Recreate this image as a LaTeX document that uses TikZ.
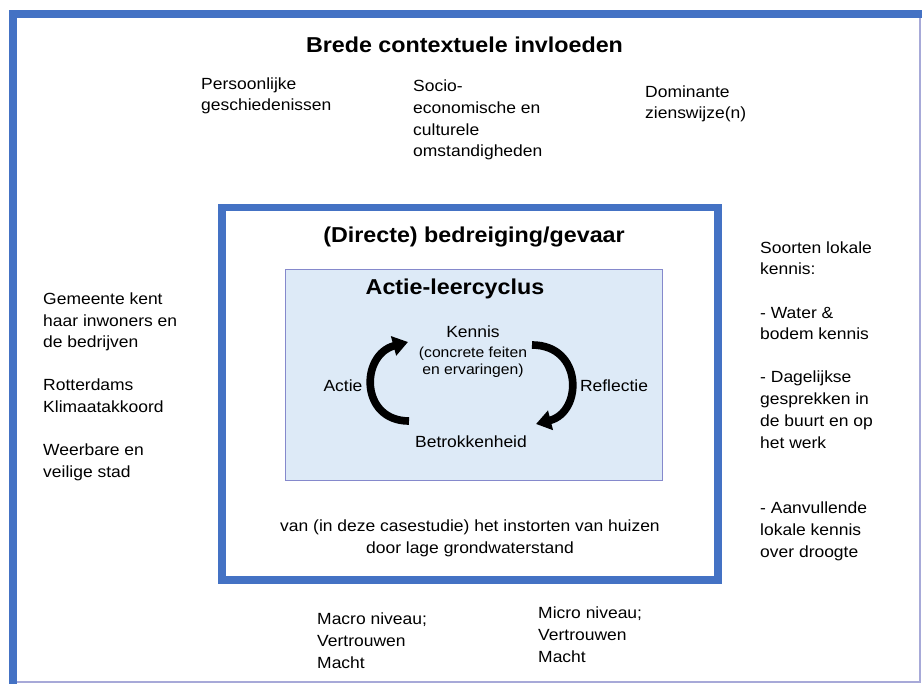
\documentclass[tikz,border=0pt]{standalone}
\usepackage{fontspec}
\setmainfont{Liberation Sans}[FakeStretch=1.08]
\usetikzlibrary{arrows.meta}
\definecolor{frameblue}{HTML}{4472C4}
\definecolor{cyclefill}{HTML}{DDEAF7}
\definecolor{cycleline}{HTML}{8589CC}
\definecolor{edgeline}{HTML}{A7A9D8}
\newcommand{\bodyfont}{\fontsize{13.8}{18.5}\selectfont}
\newcommand{\headfont}{\fontsize{18.4}{22}\selectfont\bfseries}
\newcommand{\smallfont}{\fontsize{12.4}{15.3}\selectfont}
\tikzset{
  ctxtext/.style={inner sep=0pt, anchor=base west, align=left, font=\bodyfont},
  heading/.style={inner sep=0pt, anchor=base, font=\headfont},
  cyclestep/.style={inner sep=0pt, anchor=base, align=center, font=\bodyfont},
  cyclearrow/.style={line width=2.3mm, -{Triangle[length=4.5mm,width=5.8mm]}}
}
\begin{document}
\begin{tikzpicture}[x=0.03cm,y=-0.03cm]
\useasboundingbox (0,0) rectangle (922,684);
% Outer frame
\draw[edgeline, line width=1.2pt] (13,682) -- (920,682) -- (920,14);
\draw[frameblue, line width=0.24cm] (13,684) -- (13,14) -- (922,14);

% Threat box and cycle box
\draw[frameblue, line width=0.225cm] (222,207.5) rectangle (718,580);
\draw[cycleline, fill=cyclefill, line width=0.8pt] (285,269) rectangle (662,480);

% Broad context (base = last line)
\node[heading] (brede) at (464.5,53) {Brede contextuele invloeden};
\node[ctxtext] (persoon) at (201,111) {Persoonlijke\\geschiedenissen};
\node[ctxtext] (socio) at (413,157) {Socio-\\economische en\\culturele\\omstandigheden};
\node[ctxtext] (dominant) at (645,119) {Dominante\\zienswijze(n)};

% Threat and cycle
\node[heading] (gevaar) at (474,243) {(Directe) bedreiging/gevaar};
\node[heading] (cyclus) at (455,295) {Actie-leercyclus};
\node[cyclestep] (kennis) at (473,338) {Kennis};
\node[cyclestep, font=\smallfont] (feiten) at (473,375) {(concrete feiten\\en ervaringen)};
\node[cyclestep] (actie) at (343,392) {Actie};
\node[cyclestep] (reflectie) at (614,392) {Reflectie};
\node[cyclestep] (betrokken) at (471,447) {Betrokkenheid};
\node[cyclestep] (casus) at (470,553) {van (in deze casestudie) het instorten van huizen\\door lage grondwaterstand};

% Cycle arrows
\draw[cyclearrow] ([shift={(-62,-26)}]betrokken.base) .. controls (360,421) and (360,355) .. ([shift={(-65,4)}]kennis.base);
\draw[cyclearrow] ([shift={(59,7)}]kennis.base) .. controls (583,345) and (583,412) .. ([shift={(65,-23)}]betrokken.base);

% Left: municipality
\node[ctxtext] (gemeente) at (43,348) {Gemeente kent\\haar inwoners en\\de bedrijven};
\node[ctxtext] (akkoord) at (43,412) {Rotterdams\\Klimaatakkoord};
\node[ctxtext] (stad) at (43,477) {Weerbare en\\veilige stad};

% Right: local knowledge
\node[ctxtext] (soorten) at (760,275) {Soorten lokale\\kennis:};
\node[ctxtext] (water) at (760,340) {- Water \&\\bodem kennis};
\node[ctxtext] (dagelijks) at (760,448) {- Dagelijkse\\gesprekken in\\de buurt en op\\het werk};
\node[ctxtext] (droogte) at (760,557) {- Aanvullende\\lokale kennis\\over droogte};

% Bottom: levels
\node[ctxtext] (macro) at (317,668) {Macro niveau;\\Vertrouwen\\Macht};
\node[ctxtext] (micro) at (538,662) {Micro niveau;\\Vertrouwen\\Macht};
\end{tikzpicture}
\end{document}
